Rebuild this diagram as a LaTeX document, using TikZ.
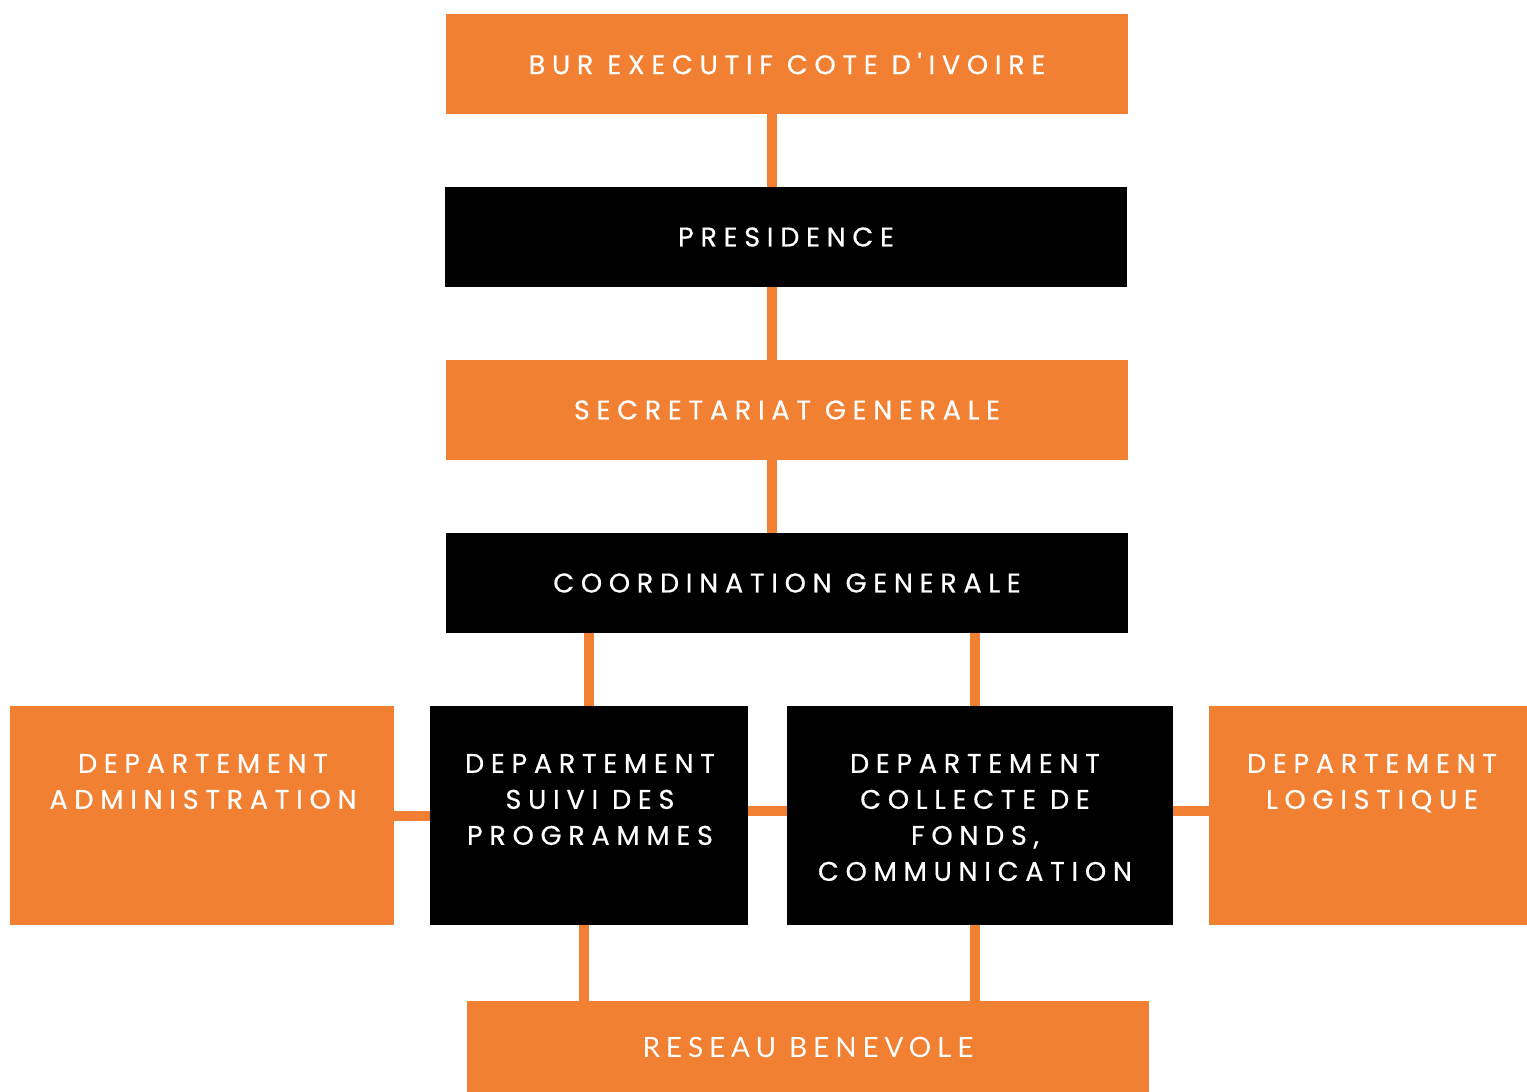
\documentclass[tikz,border=0pt]{standalone}
\usepackage{fontspec}
\setmainfont{Poppins}[LetterSpace=25,FakeBold=0.6,Ligatures=TeXOff]
\newfontfamily\resfont{Lato}[LetterSpace=21]
\definecolor{orgc}{RGB}{241,128,50}
\begin{document}
\begin{tikzpicture}[x=0.5pt,y=-0.5pt,
  box/.style={draw=none,inner sep=0pt,outer sep=0pt,text=white,font=\fontsize{13.5}{18}\selectfont},
  obox/.style={box,fill=orgc},
  kbox/.style={box,fill=black},
  wide/.style={minimum width=341pt,minimum height=50pt},
  lab/.style={inner sep=0pt,outer sep=0pt,text=white,align=center,anchor=north,font=\fontsize{13.5}{18}\selectfont},
  conn/.style={draw=orgc,line width=5pt}]
\useasboundingbox (0,0) rectangle (1527,1092);
% boxes
\node[obox,wide] (bur) at (787,63.5) {BUR EXECUTIF COTE D'IVOIRE};
\node[kbox,wide] (pres) at (786,237) {PRESIDENCE};
\node[obox,wide] (sec) at (787,410) {SECRETARIAT GENERALE\hspace{5pt}};
\node[kbox,wide] (coord) at (787,583) {COORDINATION GENERALE};
\node[obox,minimum width=192pt,minimum height=109.5pt] (admin) at (202,815.5) {};
\node[kbox,minimum width=159pt,minimum height=109.5pt] (suivi) at (589,815.5) {};
\node[kbox,minimum width=193pt,minimum height=109.5pt] (coll) at (980,815.5) {};
\node[obox,minimum width=159pt,minimum height=109.5pt] (logi) at (1368,815.5) {};
\node[obox,minimum width=341pt,minimum height=46.5pt,font=\resfont\fontsize{14}{18}\selectfont] (res) at (808,1047) {RESEAU BENEVOLE};
% texts
\node[lab] (tadmin) at (203,754) {DEPARTEMENT\\ADMINISTRATION};
\node[lab] (tsuivi) at (590,754) {DEPARTEMENT\\SUIVI DES\\PROGRAMMES};
\node[lab] (tcoll) at (975,754) {DEPARTEMENT\\COLLECTE DE\\FONDS,\\COMMUNICATION};
\node[lab] (tlogi) at (1372,754) {DEPARTEMENT\\LOGISTIQUE};
% connectors
\draw[conn] ([xshift=-7.5pt]bur.south) -- ([xshift=-7.5pt]bur.south |- pres.north);
\draw[conn] ([xshift=-7pt]pres.south) -- ([xshift=-7pt]pres.south |- sec.north);
\draw[conn] ([xshift=-7.5pt]sec.south) -- ([xshift=-7.5pt]sec.south |- coord.north);
\draw[conn] (suivi.north) -- (suivi.north |- coord.south);
\draw[conn] ([xshift=-2.5pt]coll.north) -- ([xshift=-2.5pt]coll.north |- coord.south);
\draw[conn] (admin.east) -- (suivi.west);
\draw[conn] ([yshift=2.25pt]suivi.east) -- ([yshift=2.25pt]suivi.east -| coll.west);
\draw[conn] ([yshift=2.25pt]coll.east) -- ([yshift=2.25pt]coll.east -| logi.west);
\draw[conn] ([xshift=-2.5pt]suivi.south) -- ([xshift=-2.5pt]suivi.south |- res.north);
\draw[conn] ([xshift=-2.5pt]coll.south) -- ([xshift=-2.5pt]coll.south |- res.north);
\end{tikzpicture}
\end{document}
